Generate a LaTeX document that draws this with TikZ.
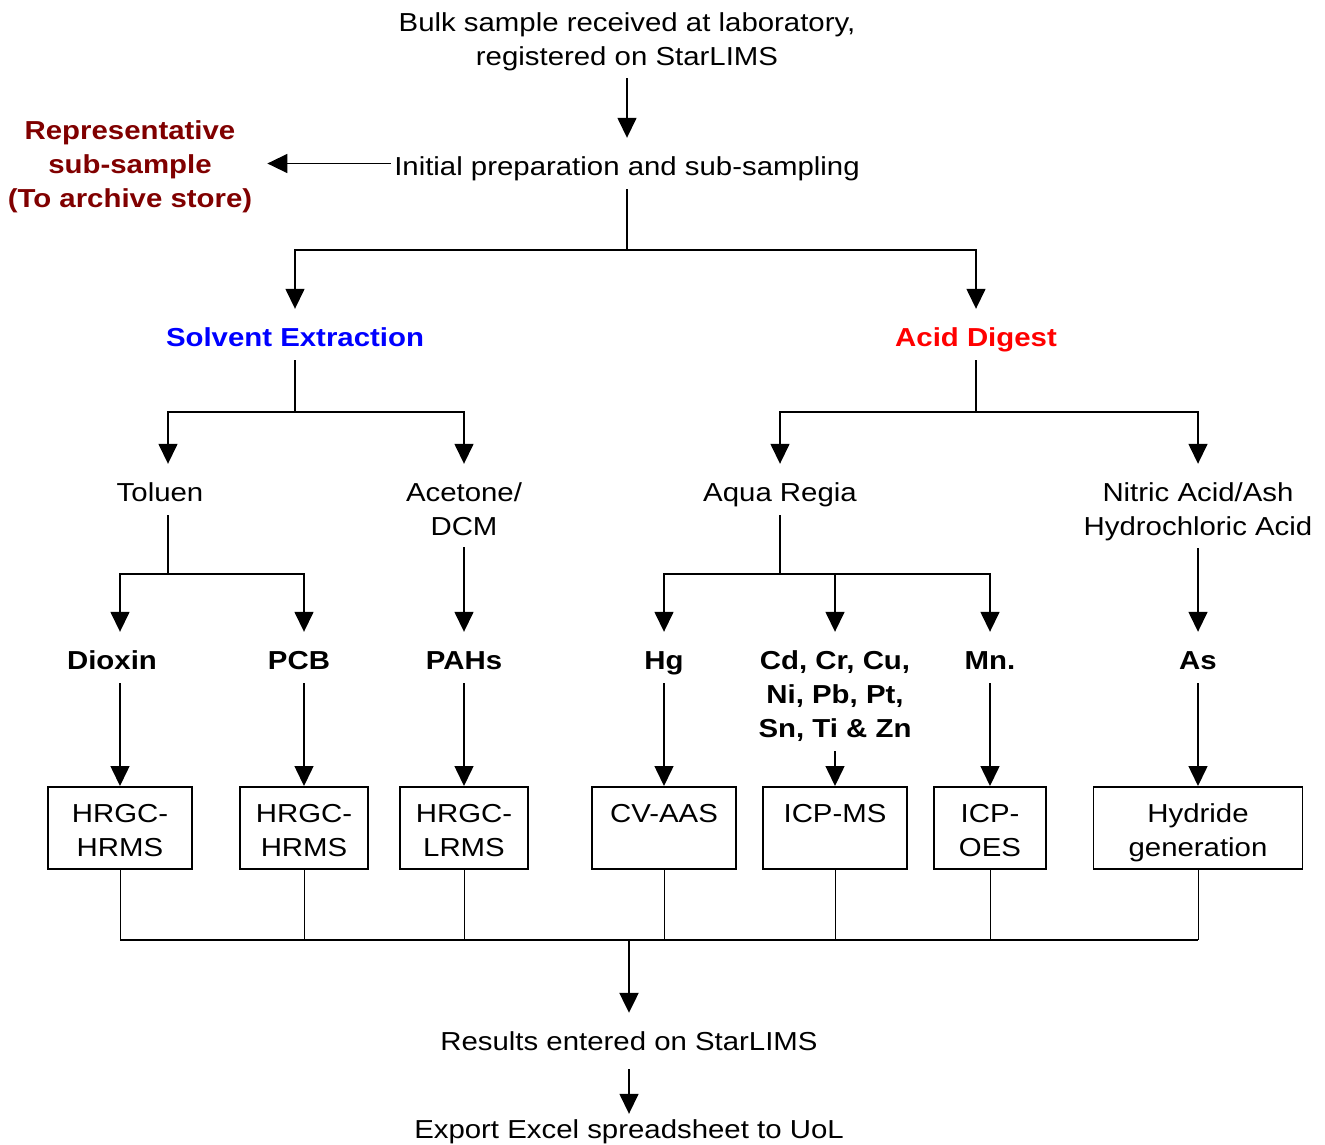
\documentclass[tikz,border=0pt]{standalone}
\usepackage{fontspec}
\setmainfont{Liberation Sans}[FakeStretch=1.13]
\usepackage{tikz}
\usetikzlibrary{arrows.meta,positioning,calc}
\definecolor{archivered}{HTML}{800000}
\definecolor{solventblue}{HTML}{0000FF}
\definecolor{acidred}{HTML}{FF0000}

\begin{document}
\begin{tikzpicture}[x=1pt,y=-1pt,font=\fontsize{26}{34}\selectfont,
    lbl/.style={anchor=base,align=center,inner sep=3pt,text height=19pt,text depth=6pt},
    lbl2/.style={lbl,text height=53pt},
    lbl3/.style={lbl,text height=87pt},
    hd/.style={font=\fontsize{26}{34}\selectfont\bfseries},
    inst/.style={draw,line width=1.6pt,anchor=north,align=center,inner xsep=2pt,inner ysep=4pt,text height=32pt,text depth=42pt},
    inst2/.style={inst,text height=66pt,text depth=8pt},
    ln/.style={line width=1.5pt},
    lnk/.style={ln,shorten <=5pt},
    arr/.style={ln,-{Triangle[length=20pt,width=19pt]},shorten >=15pt},
    tobox/.style={ln,-{Triangle[length=20pt,width=19pt]},shorten <=5pt}
]
\useasboundingbox (0,0) rectangle (1325,1144);
\node[lbl2] (bulk) at (627,65) {Bulk sample received at laboratory,\\registered on StarLIMS};
\node[lbl] (prep) at (627,175) {Initial preparation and sub-sampling};
\node[lbl3,hd,text=archivered] (rep) at (130,207) {Representative\\sub-sample\\(To archive store)};
\node[lbl,hd,text=solventblue] (solv) at (295,346) {Solvent Extraction};
\node[lbl,hd,text=acidred] (acid) at (976,346) {Acid Digest};
\node[lbl] (tol) at (160,501) {Toluen};
\node[lbl2] (ace) at (464,535) {Acetone/\\DCM};
\node[lbl] (aqua) at (780,501) {Aqua Regia};
\node[lbl2] (nit) at (1198,535) {Nitric Acid/Ash\\Hydrochloric Acid};
\node[lbl,hd] (diox) at (112,669) {Dioxin};
\node[lbl,hd] (pcb) at (299,669) {PCB};
\node[lbl,hd] (pahs) at (464,669) {PAHs};
\node[lbl,hd] (hg) at (664,669) {Hg};
\node[lbl3,hd] (cd) at (835,737) {Cd, Cr, Cu,\\Ni, Pb, Pt,\\Sn, Ti \& Zn};
\node[lbl,hd] (mn) at (990,669) {Mn.};
\node[lbl,hd] (as) at (1198,669) {As};
\node[inst2,minimum width=144pt] (hrms1) at (120,786) {HRGC-\\HRMS};
\node[inst2,minimum width=128pt] (hrms2) at (304,786) {HRGC-\\HRMS};
\node[inst2,minimum width=128pt] (lrms) at (464,786) {HRGC-\\LRMS};
\node[inst,minimum width=144pt] (aas) at (664,786) {CV-AAS};
\node[inst,minimum width=144pt] (icpms) at (835,786) {ICP-MS};
\node[inst2,minimum width=112pt] (icpoes) at (990,786) {ICP-\\OES};
\node[inst2,minimum width=209pt] (hyd) at (1198,786) {Hydride\\generation};
\node[lbl] (res) at (629,1050) {Results entered on StarLIMS};
\node[lbl] (exp) at (629,1138) {Export Excel spreadsheet to UoL};
\coordinate (split) at (627,250);
\coordinate (solvsplit) at (295,412);
\coordinate (acidsplit) at (976,412);
\coordinate (tolsplit) at (168,574);
\coordinate (aquasplit) at (780,574);
\coordinate (bus) at (629,940);
\draw[arr,shorten <=4pt] (bulk) -- (prep);
\draw[arr,shorten >=12pt] ([yshift=5pt]prep.west) -- ([yshift=5pt]prep.west -| rep.east);
\draw[lnk] (prep) -- (split);
\draw[arr] (split) -| (solv);
\draw[arr] (split) -| (acid);
\draw[lnk] (solv) -- (solvsplit);
\draw[arr] (solvsplit) -| (tol.north -| tolsplit);
\draw[arr] (solvsplit) -| (ace);
\draw[lnk] (acid) -- (acidsplit);
\draw[arr] (acidsplit) -| (aqua);
\draw[arr] (acidsplit) -| (nit);
\draw[lnk] (tol.south -| tolsplit) -- (tolsplit);
\draw[arr] (tolsplit) -| (diox.north -| hrms1);
\draw[arr] (tolsplit) -| (pcb.north -| hrms2);
\draw[arr,shorten <=3pt] (ace) -- (pahs);
\draw[lnk] (aqua) -- (aquasplit);
\draw[arr] (aquasplit) -| (hg);
\draw[arr] (aquasplit) -| (cd);
\draw[arr] (aquasplit) -| (mn);
\draw[arr,shorten <=4pt] (nit) -- (as);
\draw[tobox] (diox.south -| hrms1) -- (hrms1);
\draw[tobox] (pcb.south -| hrms2) -- (hrms2);
\draw[tobox] (pahs) -- (lrms);
\draw[tobox] (hg) -- (aas);
\draw[tobox] (cd) -- (icpms);
\draw[tobox] (mn) -- (icpoes);
\draw[tobox] (as) -- (hyd);
\draw[line width=2pt] (hrms1 |- bus) -- (hyd |- bus);
\foreach \b in {hrms1,hrms2,lrms,aas,icpms,icpoes,hyd}
  \draw[line width=1pt] (\b) -- (\b |- bus);
\draw[arr,line width=2.2pt] (bus) -- (res);
\draw[arr,shorten <=10pt,shorten >=2pt] (res) -- (exp);
\end{tikzpicture}
\end{document}
